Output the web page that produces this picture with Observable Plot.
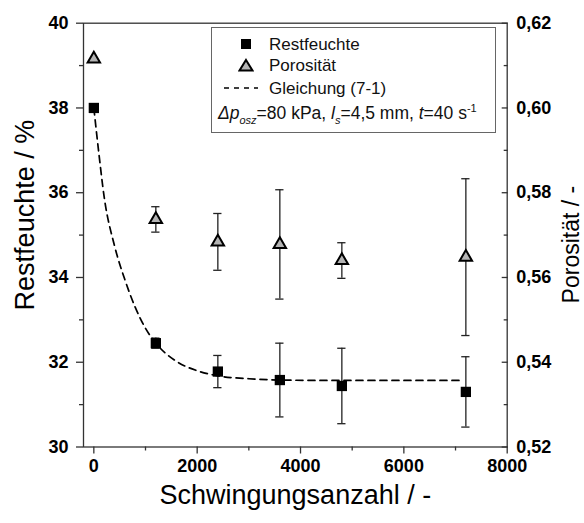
<!DOCTYPE html>
<html><head><meta charset="utf-8">
<script src="https://cdn.jsdelivr.net/npm/d3@7"></script>
<script src="https://cdn.jsdelivr.net/npm/@observablehq/plot@0.6"></script>
<style>
body{margin:0;background:#fff;font-family:"Liberation Sans",Arial,sans-serif;}
#wrap{position:relative;width:584px;height:523px;overflow:hidden;}
#legend{position:absolute;left:211px;top:27px;width:285px;height:106px;border:1px solid #666;box-sizing:border-box;font-size:17px;color:#111;background:#fff;}
.sym{position:absolute;transform:translate(-50%,-50%);}
.lab{position:absolute;left:57px;transform:translateY(-50%);white-space:nowrap;line-height:1;}
.row4{position:absolute;left:6px;top:86px;transform:translateY(-50%);white-space:nowrap;font-size:17.5px;line-height:1;}
sub,sup{font-size:11px;line-height:0;}
#chart svg g[aria-label*="tick label"] text{font-weight:bold;}
</style>
</head><body>
<div id="wrap">
<div id="chart"></div>
<div id="legend">
  <div class="sym" style="left:34px;top:15.7px;width:10px;height:10px;background:#000;"></div>
  <div class="lab" style="top:15.7px;">Restfeuchte</div>
  <svg class="sym" style="left:34px;top:37.3px;" width="16" height="14"><polygon points="8,2 14.5,12.5 1.5,12.5" fill="#b4b4b4" stroke="#000" stroke-width="2"/></svg>
  <div class="lab" style="top:37.3px;">Porosität</div>
  <svg class="sym" style="left:29px;top:60.3px;" width="36" height="4"><line x1="1" y1="2" x2="35" y2="2" stroke="#000" stroke-width="1.5" stroke-dasharray="5,5"/></svg>
  <div class="lab" style="top:60.3px;">Gleichung (7-1)</div>
  <div class="row4"><i>Δp</i><sub><i>osz</i></sub>=80 kPa, <i>l</i><sub><i>s</i></sub>=4,5 mm, <i>t</i>=40 s<sup>-1</sup></div>
</div>
</div>
<script>
// Data
const sweeps = [0, 1200, 2400, 3600, 4800, 7200];
const restfeuchte = [38.0, 32.45, 31.78, 31.58, 31.44, 31.30];
const restfeuchteErr = [0, 0.12, 0.38, 0.87, 0.89, 0.83];
const porositaet = [0.6116, 0.5737, 0.5684, 0.5678, 0.5640, 0.5648];
const porositaetErr = [0, 0.003, 0.0067, 0.0129, 0.0042, 0.0185];
// Dashed curve "Gleichung (7-1)"
const fitX = [0, 100, 200, 400, 600, 800, 1000, 1200, 1600, 2000, 2400, 3000, 3600, 4800, 6000, 7100];
const fitY = [38.0, 36.9, 35.9, 34.75, 33.95, 33.3, 32.8, 32.45, 32.02, 31.8, 31.68, 31.61, 31.58, 31.57, 31.57, 31.57];
// Ticks
const xTicks = [0, 2000, 4000, 6000, 8000];
const xMinor = [1000, 3000, 5000, 7000];
const leftTicks = [30, 32, 34, 36, 38, 40];
const leftMinor = [31, 33, 35, 37, 39];
const rightTicks = [0.52, 0.54, 0.56, 0.58, 0.60, 0.62];
const rightMinor = [0.53, 0.55, 0.57, 0.59, 0.61];

// right axis (0.52–0.62) shares the frame with the left axis (30–40)
const toLeft = p => 30 + (p - 0.52) * 100;
const fromLeft = v => 0.52 + (v - 30) / 100;

const pts = sweeps.map((x, i) => ({x, r: restfeuchte[i], re: restfeuchteErr[i], p: porositaet[i], pe: porositaetErr[i]}));
const fit = fitX.map((x, i) => ({x, y: fitY[i]}));
const capHalf = 80; // cap half-width in x units
const ink = "#222";

const chart = Plot.plot({
  width: 584, height: 523,
  marginLeft: 83, marginRight: 77.3, marginTop: 22.7, marginBottom: 76.5,
  style: {fontFamily: '"Liberation Sans", Arial, sans-serif', fontSize: "18px", color: "#000", background: "#fff"},
  x: {domain: [-200, 8000]},
  y: {domain: [30, 40]},
  marks: [
    Plot.frame({stroke: "#333", strokeWidth: 1.3}),
    Plot.axisX({ticks: xTicks, tickSize: 7, tickPadding: 5, tickFormat: d => String(d), fontWeight: "bold", label: null, stroke: "#333", strokeWidth: 1.3}),
    Plot.axisX({ticks: xMinor, tickSize: 4, tickFormat: () => "", label: null, stroke: "#333", strokeWidth: 1.3}),
    Plot.axisY({anchor: "left", ticks: leftTicks, tickSize: 7, tickPadding: 8, tickFormat: d => String(d), fontWeight: "bold", label: null, stroke: "#333", strokeWidth: 1.3}),
    Plot.axisY({anchor: "left", ticks: leftMinor, tickSize: 4, tickFormat: () => "", label: null, stroke: "#333", strokeWidth: 1.3}),
    Plot.axisY({anchor: "right", ticks: rightTicks.map(toLeft), tickSize: -6, tickPadding: 15, tickFormat: d => fromLeft(d).toFixed(2).replace(".", ","), fontWeight: "bold", label: null, stroke: "#333", strokeWidth: 1.3}),
    Plot.axisY({anchor: "right", ticks: rightMinor.map(toLeft), tickSize: -4, tickFormat: () => "", label: null, stroke: "#333", strokeWidth: 1.3}),
    // porosity error bars
    Plot.ruleX(pts.filter(d => d.pe > 0), {x: "x", y1: d => toLeft(d.p - d.pe), y2: d => toLeft(d.p + d.pe), stroke: ink, strokeWidth: 1.3}),
    Plot.ruleY(pts.filter(d => d.pe > 0), {y: d => toLeft(d.p - d.pe), x1: d => d.x - capHalf, x2: d => d.x + capHalf, stroke: ink, strokeWidth: 1.3}),
    Plot.ruleY(pts.filter(d => d.pe > 0), {y: d => toLeft(d.p + d.pe), x1: d => d.x - capHalf, x2: d => d.x + capHalf, stroke: ink, strokeWidth: 1.3}),
    // Restfeuchte error bars
    Plot.ruleX(pts.filter(d => d.re > 0), {x: "x", y1: d => d.r - d.re, y2: d => d.r + d.re, stroke: ink, strokeWidth: 1.3}),
    Plot.ruleY(pts.filter(d => d.re > 0), {y: d => d.r - d.re, x1: d => d.x - capHalf, x2: d => d.x + capHalf, stroke: ink, strokeWidth: 1.3}),
    Plot.ruleY(pts.filter(d => d.re > 0), {y: d => d.r + d.re, x1: d => d.x - capHalf, x2: d => d.x + capHalf, stroke: ink, strokeWidth: 1.3}),
    // fit curve
    Plot.line(fit, {x: "x", y: "y", stroke: "#000", strokeWidth: 1.7, strokeDasharray: "7,5", curve: "monotone-x"}),
    // markers
    Plot.dot(pts, {x: "x", y: d => toLeft(d.p), symbol: "triangle", r: 4.6, fill: "#b4b4b4", stroke: "#000", strokeWidth: 2}),
    Plot.dot(pts, {x: "x", y: "r", symbol: "square", r: 5.8, fill: "#000", stroke: "none"}),
    // axis titles
    Plot.text(["Restfeuchte / %"], {frameAnchor: "left", textAnchor: "middle", dx: -58, dy: -20, rotate: -90, fontSize: 27, text: d => d, fill: "#000"}),
    Plot.text(["Porosität / -"], {frameAnchor: "right", textAnchor: "middle", dx: 64, dy: 9.5, rotate: -90, fontSize: 23, text: d => d, fill: "#000"}),
    Plot.text(["Schwingungsanzahl / -"], {frameAnchor: "bottom", textAnchor: "middle", dy: 57, fontSize: 27, text: d => d, fill: "#000"})
  ]
});
document.getElementById("chart").appendChild(chart);
</script>
</body></html>
